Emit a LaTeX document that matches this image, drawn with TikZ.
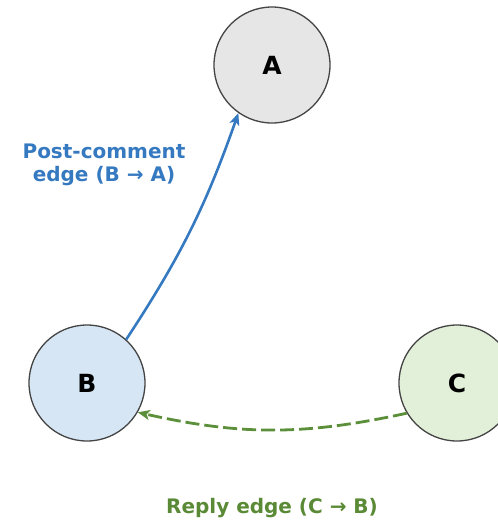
\documentclass[tikz,border=0pt]{standalone}
\usepackage{fontspec}
\setmainfont{DejaVu Sans}
\usetikzlibrary{arrows.meta}
\definecolor{edgeblue}{HTML}{3579C0}
\definecolor{edgegreen}{HTML}{5B8F3A}
\definecolor{labgreen}{HTML}{5A8A35}
\definecolor{fillA}{HTML}{E6E6E6}
\definecolor{fillB}{HTML}{D6E6F5}
\definecolor{fillC}{HTML}{E2EFD9}
\definecolor{rim}{HTML}{444444}
\tikzset{
  vert/.style={circle, draw=rim, line width=1.3pt, minimum size=116pt, inner sep=0pt, font=\bfseries\fontsize{25}{25}\selectfont},
  postedge/.style={draw=edgeblue, line width=2.6pt, -{Stealth[length=12pt,width=10pt,inset=3pt]}},
  replyedge/.style={draw=edgegreen, line width=2.8pt, dash pattern=on 14pt off 5pt, -{Stealth[length=12pt,width=10pt,inset=3pt]}},
  lab/.style={font=\bfseries\fontsize{20}{23}\selectfont, align=center}
}
\begin{document}
\begin{tikzpicture}[x=1pt,y=-1pt]
\useasboundingbox (0,0) rectangle (498,523);
\clip (0,0) rectangle (498,523);
\node[vert, fill=fillA] (A) at (272,65) {A};
\node[vert, fill=fillB] (B) at (87,383) {B};
\node[vert, fill=fillC] (C) at (457,383) {C};
\draw[postedge] (B.48) to[bend right=7] (A.235);
\draw[replyedge] (C.211) to[bend left=12.5] (B.330);
\node[lab, text=edgeblue] (pl) at (104,165) {Post-comment\\edge (B → A)};
\node[lab, text=labgreen] (rl) at (272,508) {Reply edge (C → B)};
\end{tikzpicture}
\end{document}
